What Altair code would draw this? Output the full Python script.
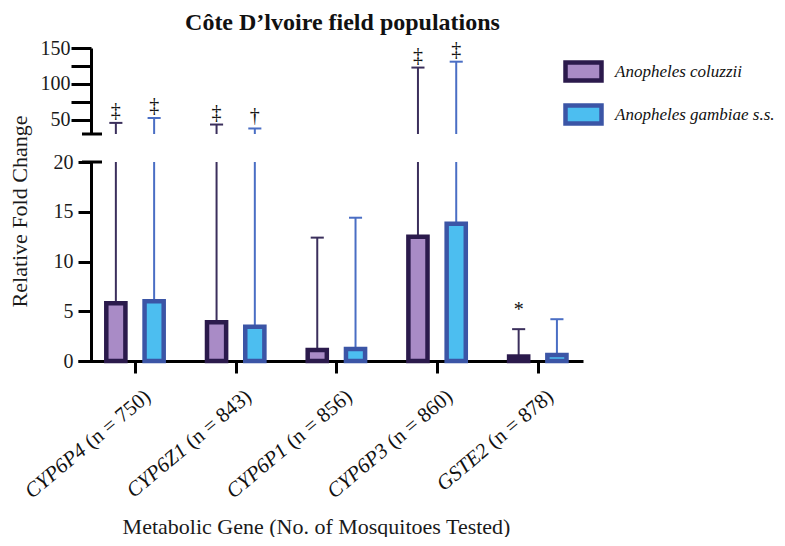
import altair as alt
import pandas as pd

genes = ["CYP6P4", "CYP6Z1", "CYP6P1", "CYP6P3", "GSTE2"]
n_tested = [750, 843, 856, 860, 878]
species = ["Anopheles coluzzii", "Anopheles gambiae s.s."]
coluzzii_mean = [5.8, 3.9, 1.1, 12.5, 0.45]
gambiae_mean = [6.0, 3.45, 1.2, 13.8, 0.6]
coluzzii_upper = [45.5, 43.2, 12.4, 122.7, 3.2]
gambiae_upper = [52.3, 37.7, 14.4, 130.9, 4.2]
coluzzii_sig = ["‡", "‡", "", "‡", "*"]
gambiae_sig = ["‡", "†", "", "‡", ""]
upper_ticks = [50, 75, 100, 125, 150]
lower_ticks = [0, 5, 10, 15, 20]

rows = []
for i, g in enumerate(genes):
    rows.append(dict(gene=g, gi=i, species=species[0], mean=coluzzii_mean[i],
                     upper=coluzzii_upper[i], sig=coluzzii_sig[i]))
    rows.append(dict(gene=g, gi=i, species=species[1], mean=gambiae_mean[i],
                     upper=gambiae_upper[i], sig=gambiae_sig[i]))
df = pd.DataFrame(rows)
labels_df = pd.DataFrame({"gene": genes, "gi": list(range(len(genes))),
                          "n": [f"(n = {n})" for n in n_tested]})

FONT = "Liberation Serif"
W = 505
H = 313
UP_RANGE = [86, 0]          # broken axis: upper segment
LO_RANGE = [313, 114]       # lower segment
UP_MIN, UP_MAX = 30, 150
LO_MAX = 20
GROUP_OFF = 0.19            # half distance between the two bars of a gene
BAR_HALF = 0.095
CAP_HALF = 0.065

fill_scale = alt.Scale(domain=species, range=["#a98bc6", "#4cbef0"])
stroke_scale = alt.Scale(domain=species, range=["#2b1a4c", "#3b55a6"])
ERR_COLORS = ["#3b2f5c", "#4a6ec4"]

legend = alt.Legend(
    title=None, orient="none", legendX=485, legendY=3,
    symbolType="M-1,-0.5H1V0.5H-1Z", symbolSize=1296, symbolStrokeWidth=4.5,
    symbolOpacity=1, labelFont=FONT, labelFontSize=17, labelFontStyle="italic",
    labelColor="#111111", labelOffset=11, rowPadding=4, labelLimit=400,
)

x_scale = alt.Scale(domain=[-0.566, 4.449], nice=False, zero=False)
x_axis = alt.Axis(values=[0, 1, 2, 3, 4], labels=False, tickSize=12, tickWidth=3,
                  domainWidth=3, title="Metabolic Gene (No. of Mosquitoes Tested)",
                  titleX=238, titleY=165, titleBaseline="middle", titleAlign="center")

up_scale = alt.Scale(domain=[UP_MIN, UP_MAX], range=UP_RANGE, nice=False, zero=False)
lo_scale = alt.Scale(domain=[0, LO_MAX], range=LO_RANGE, nice=False, zero=False)
up_axis = alt.Axis(values=upper_ticks, tickSize=20, labelPadding=1, offset=-13,
                   title=None, domainWidth=3, tickWidth=3, orient="left")
lo_axis = alt.Axis(values=lower_ticks, tickSize=13, labelPadding=5, offset=-13,
                   title="Relative Fold Change", titleX=-72, titleY=163,
                   titleAngle=270, titleAlign="center", titleBaseline="middle",
                   domainWidth=3, tickWidth=3, orient="left")


def yU(field, axis=None):
    return alt.Y(field, scale=up_scale, axis=axis)


def yL(field, axis=None):
    return alt.Y(field, scale=lo_scale, axis=axis)


base = alt.Chart(df).transform_calculate(
    c=f"datum.gi + (datum.species == '{species[0]}' ? -{GROUP_OFF} : {GROUP_OFF})"
).transform_calculate(
    b0=f"datum.c - {BAR_HALF}", b1=f"datum.c + {BAR_HALF}",
    k0=f"datum.c - {CAP_HALF}", k1=f"datum.c + {CAP_HALF}",
    zero="0", base_v=str(UP_MIN), top=f"min(datum.upper, {LO_MAX})",
)
ecolor = alt.condition(f"datum.species == '{species[0]}'",
                       alt.value(ERR_COLORS[0]), alt.value(ERR_COLORS[1]))
XC = alt.X("c:Q", scale=x_scale, axis=x_axis)

# ---------------- upper segment ----------------
up_data = base.transform_filter(f"datum.upper > {LO_MAX}")
up_rule = up_data.mark_rule(strokeWidth=2).encode(
    x=XC, y=yU("upper:Q", up_axis), y2="base_v:Q", color=ecolor)
up_cap = up_data.mark_rule(strokeWidth=2).encode(
    x="k0:Q", x2="k1:Q", y=yU("upper:Q"), color=ecolor)
up_text = up_data.mark_text(font=FONT, fontSize=20, dy=-6, baseline="alphabetic",
                            color="#111111").encode(x="c:Q", y=yU("upper:Q"), text="sig:N")
up_break = alt.Chart(pd.DataFrame({"v": [UP_MIN]})).mark_rule(
    strokeWidth=3, color="black").encode(y=yU("v:Q"), x=alt.value(4), x2=alt.value(24))

# ---------------- lower segment ----------------
lo_rule = base.mark_rule(strokeWidth=2).encode(
    x="c:Q", y=yL("mean:Q"), y2="top:Q", color=ecolor)
bars = base.mark_rect(strokeWidth=4.5).encode(
    x="b0:Q", x2="b1:Q", y=yL("mean:Q", lo_axis), y2="zero:Q",
    fill=alt.Fill("species:N", scale=fill_scale, legend=legend),
    stroke=alt.Stroke("species:N", scale=stroke_scale, legend=legend),
)
lo_small = base.transform_filter(f"datum.upper <= {LO_MAX}")
lo_cap = lo_small.mark_rule(strokeWidth=2).encode(
    x="k0:Q", x2="k1:Q", y=yL("upper:Q"), color=ecolor)
lo_text = lo_small.mark_text(font=FONT, fontSize=20, dy=-13, baseline="alphabetic",
                             color="#111111").encode(x="c:Q", y=yL("upper:Q"), text="sig:N")
lo_break = alt.Chart(pd.DataFrame({"v": [LO_MAX]})).mark_rule(
    strokeWidth=3, color="black").encode(y=yL("v:Q"), x=alt.value(4), x2=alt.value(24))

# ---------------- category labels (italic gene + upright n) ----------------
lab = alt.Chart(labels_df)
n_text = lab.mark_text(angle=320, align="right", baseline="alphabetic", font=FONT,
                       fontSize=21, color="#111111", dx=22).encode(
    x="gi:Q", y=alt.value(H + 52), text="n:N")
g_text = lab.mark_text(angle=320, align="right", baseline="alphabetic", font=FONT,
                       fontSize=21, fontStyle="italic", color="#111111", dx=-62).encode(
    x="gi:Q", y=alt.value(H + 52), text="gene:N")

chart = alt.layer(
    up_rule, up_cap, up_text, up_break,
    lo_rule, bars, lo_cap, lo_text, lo_break,
    n_text, g_text,
).resolve_scale(y="independent").properties(
    width=W, height=H,
    padding={"left": 0, "top": 3, "right": 0, "bottom": 0},
    title=alt.TitleParams("Côte D’lvoire field populations", font=FONT, fontSize=24,
                          fontWeight="bold", color="#111111", anchor="middle",
                          offset=3, dx=12),
).configure_axis(
    labelFont=FONT, labelFontSize=20, labelColor="#1a1a1a",
    titleFont=FONT, titleFontSize=22, titleFontWeight="normal", titleColor="#1a1a1a",
    domainColor="black", tickColor="black", grid=False,
).configure_view(stroke=None)

chart.save("out.html", embed_options={"renderer": "svg", "actions": False})
